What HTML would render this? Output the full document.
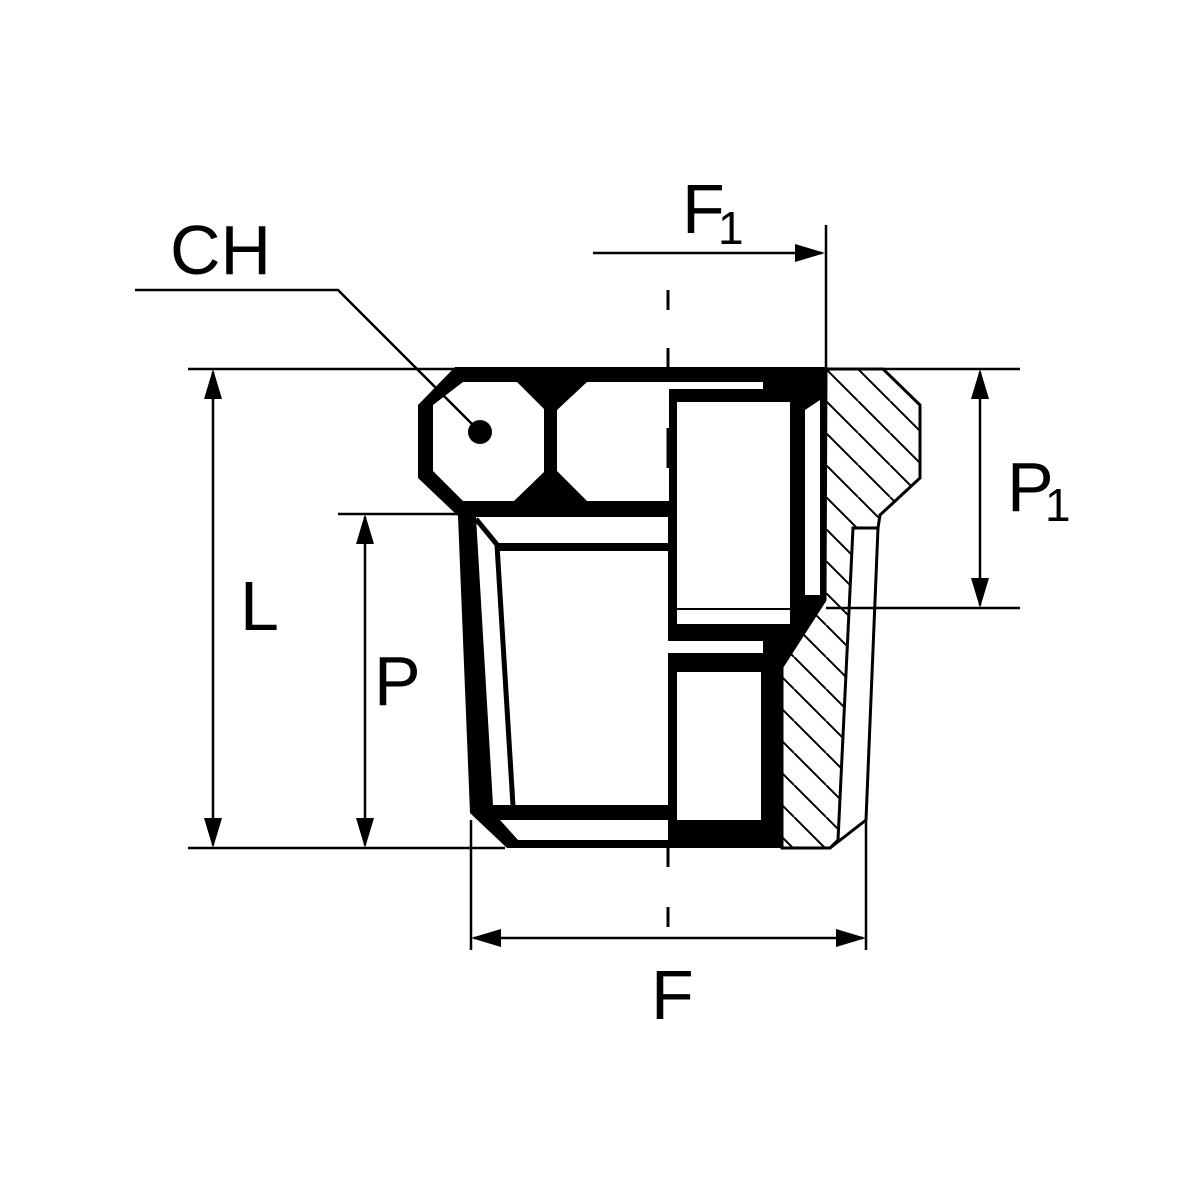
<!DOCTYPE html>
<html><head><meta charset="utf-8"><style>html,body{margin:0;padding:0;background:#fff}svg{display:block}</style></head>
<body>
<svg width="1200" height="1200" viewBox="0 0 1200 1200" xmlns="http://www.w3.org/2000/svg">
<defs>
<pattern id="h" patternUnits="userSpaceOnUse" width="32" height="32" patternTransform="translate(826,369)">
<line x1="0" y1="0" x2="32" y2="32" stroke="#000" stroke-width="2"/>
<line x1="-32" y1="0" x2="0" y2="32" stroke="#000" stroke-width="2"/>
<line x1="32" y1="0" x2="64" y2="32" stroke="#000" stroke-width="2"/>
</pattern>
</defs>
<rect width="1200" height="1200" fill="#fff"/>
<polygon points="826,369 883,369 920,405 920,478 880,515 878,528 853,528 838,840 830,848 782,848 782,667 825,600" fill="url(#h)" stroke="#000" stroke-width="3"/>
<polyline points="878,528 866,820 830,848" fill="none" stroke="#000" stroke-width="3"/>
<polygon points="455,367 826,367 826,600 782,667 782,848 507,848 470,813 458,516 418,478 418,405" fill="#000"/>
<polygon points="463,382 517,382 544,409 544,472 514,501 463,501 433,471 433,405" fill="#fff"/>
<polygon points="587,382 669,382 669,501 587,501 557,471 557,410" fill="#fff"/>
<rect x="669" y="382" width="94" height="7" fill="#fff"/>
<rect x="677" y="402" width="113" height="206" fill="#fff"/>
<polygon points="805,410 820,400 820,595 805,595" fill="#fff"/>
<rect x="677" y="610" width="113" height="14" fill="#fff"/>
<rect x="668" y="641" width="95" height="12" fill="#fff"/>
<rect x="677" y="672" width="84" height="148" fill="#fff"/>
<polygon points="476,517 668,517 668,805 493,805" fill="#fff"/>
<line x1="476" y1="519" x2="499" y2="547" stroke="#000" stroke-width="5"/>
<rect x="497" y="543" width="171" height="8" fill="#000"/>
<line x1="497" y1="545" x2="513" y2="806" stroke="#000" stroke-width="5"/>
<polygon points="500,820 668,820 668,840 518,840" fill="#fff"/>
<g stroke="#000" stroke-width="3">
<line x1="668" y1="290" x2="668" y2="310"/>
<line x1="668" y1="348" x2="668" y2="369"/>
<line x1="668" y1="428" x2="668" y2="468"/>
<line x1="668" y1="848" x2="668" y2="867"/>
<line x1="668" y1="907" x2="668" y2="927"/>
</g>
<g stroke="#000" stroke-width="2.5" fill="none">
<line x1="188" y1="369" x2="455" y2="369"/>
<line x1="826" y1="369" x2="1020" y2="369"/>
<line x1="188" y1="848" x2="505" y2="848"/>
<line x1="338" y1="514" x2="458" y2="514"/>
<line x1="826" y1="608" x2="1020" y2="608"/>
<line x1="213" y1="372" x2="213" y2="845"/>
<line x1="365" y1="517" x2="365" y2="845"/>
<line x1="980" y1="372" x2="980" y2="605"/>
<line x1="471" y1="820" x2="471" y2="950"/>
<line x1="866" y1="820" x2="866" y2="950"/>
<line x1="474" y1="938" x2="863" y2="938"/>
<line x1="593" y1="253" x2="822" y2="253"/>
<line x1="826" y1="225" x2="826" y2="369"/>
<polyline points="135,290 338,290 480,432"/>
</g>
<circle cx="480" cy="432" r="12" fill="#000"/>
<g fill="#000">
<polygon points="213,369 204,399 222,399"/>
<polygon points="213,848 204,818 222,818"/>
<polygon points="365,514 356,544 374,544"/>
<polygon points="365,848 356,818 374,818"/>
<polygon points="980,369 971,399 989,399"/>
<polygon points="980,608 971,578 989,578"/>
<polygon points="471,938 501,929 501,947"/>
<polygon points="866,938 836,929 836,947"/>
<polygon points="825,253 795,244 795,262"/>
</g>
<g font-family="Liberation Sans, sans-serif" fill="#000">
<text x="170" y="274" font-size="70">CH</text>
<text x="682" y="233" font-size="70">F</text>
<text x="718" y="244" font-size="46">1</text>
<text x="1007" y="511" font-size="70">P</text>
<text x="1045" y="521" font-size="46">1</text>
<text x="240" y="630" font-size="70">L</text>
<text x="374" y="705" font-size="70">P</text>
<text x="651" y="1019" font-size="70">F</text>
</g>
</svg>
</body></html>
